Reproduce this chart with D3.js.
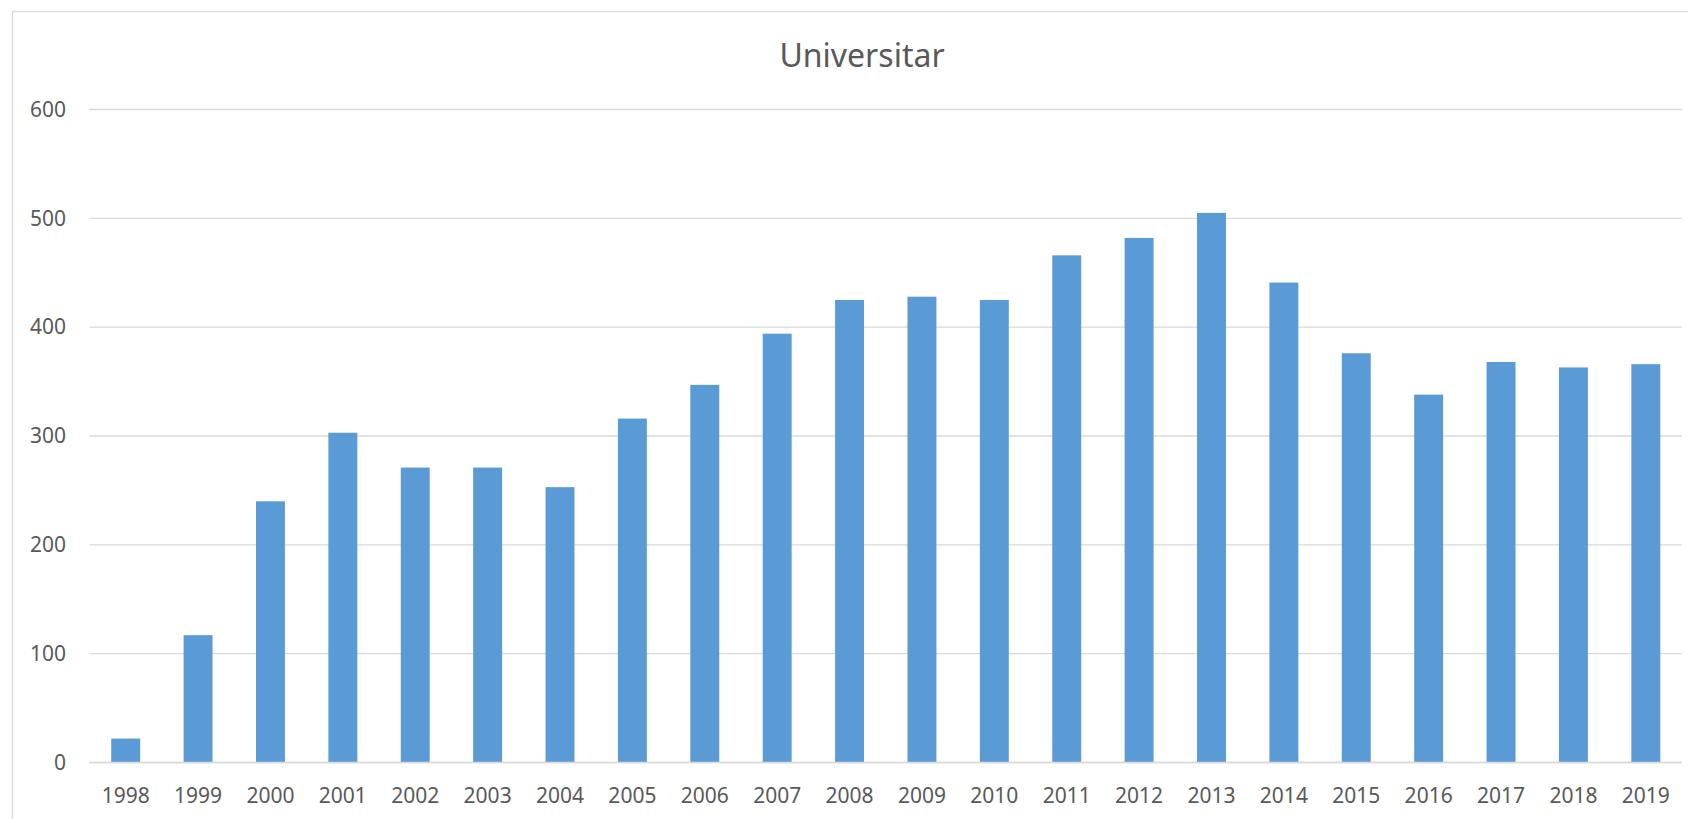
<!DOCTYPE html>
<html>
<head>
<meta charset="utf-8">
<script src="https://cdn.jsdelivr.net/npm/d3@7"></script>
<style>
  html, body { margin: 0; padding: 0; background: #fff; }
  svg { display: block; font-family: "Noto Sans", "Open Sans", sans-serif; }
  .grid line { stroke: #d9d9d9; stroke-width: 1.3; }
  .tick text { fill: #595959; }
</style>
</head>
<body>
<div id="chart"></div>
<script>
const title = 'Universitar';
const years = ['1998', '1999', '2000', '2001', '2002', '2003', '2004', '2005', '2006', '2007', '2008',
  '2009', '2010', '2011', '2012', '2013', '2014', '2015', '2016', '2017', '2018', '2019'];
const values = [22, 117, 240, 303, 271, 271, 253, 316, 347, 394, 425,
  428, 425, 466, 482, 505, 441, 376, 338, 368, 363, 366];
const yTicks = [0, 100, 200, 300, 400, 500, 600];

const width = 1688, height = 819;
const plot = { left: 89.5, right: 1682, top: 109.5, bottom: 762.5 };

const svg = d3.select('#chart')
  .append('svg')
  .attr('width', width)
  .attr('height', height);

// chart area border
svg.append('rect')
  .attr('x', 12.5).attr('y', 11.5)
  .attr('width', width).attr('height', height)
  .attr('fill', '#fff')
  .attr('stroke', '#d9d9d9')
  .attr('stroke-width', 1.3);

const x = d3.scaleBand()
  .domain(years)
  .range([plot.left, plot.right])
  .paddingInner(0.6)
  .paddingOuter(0.3);

const y = d3.scaleLinear()
  .domain([0, 600])
  .range([plot.bottom, plot.top]);

// gridlines
svg.append('g')
  .attr('class', 'grid')
  .selectAll('line')
  .data(yTicks)
  .enter()
  .append('line')
  .attr('x1', plot.left)
  .attr('x2', plot.right)
  .attr('y1', d => y(d))
  .attr('y2', d => y(d));

// y axis labels
const yAxis = d3.axisLeft(y).tickValues(yTicks).tickSize(0).tickPadding(23.5);
svg.append('g')
  .attr('transform', `translate(${plot.left},0)`)
  .call(yAxis)
  .call(g => g.select('.domain').remove())
  .call(g => g.selectAll('text').attr('font-size', 21).attr('font-family', '"Noto Sans", sans-serif'));

// bars
svg.selectAll('.bar')
  .data(values)
  .enter()
  .append('rect')
  .attr('class', 'bar')
  .attr('x', (d, i) => x(years[i]))
  .attr('y', d => y(d))
  .attr('width', x.bandwidth())
  .attr('height', d => y(0) - y(d))
  .attr('fill', '#5b9bd5');

// x axis
const xAxis = d3.axisBottom(x).tickSize(0).tickPadding(26);
svg.append('g')
  .attr('transform', `translate(0,${plot.bottom})`)
  .call(xAxis)
  .call(g => g.select('.domain').attr('stroke', '#d9d9d9').attr('stroke-width', 1.3)
    .attr('d', `M${plot.left},0H${plot.right}`))
  .call(g => g.selectAll('text').attr('font-size', 21).attr('font-family', '"Noto Sans", sans-serif'));

// title
svg.append('text')
  .attr('x', 862)
  .attr('y', 66.5)
  .attr('text-anchor', 'middle')
  .attr('font-size', 32)
  .attr('fill', '#595959')
  .text(title);
</script>
</body>
</html>
